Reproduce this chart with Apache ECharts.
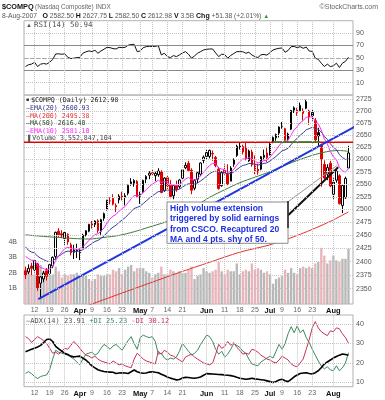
<!DOCTYPE html>
<html>
<head>
<meta charset="utf-8">
<script src="https://cdn.jsdelivr.net/npm/echarts@6.0.0/dist/echarts.min.js"></script>
<style>
html,body{margin:0;padding:0;background:#ffffff;}
#chart{width:385px;height:400px;}
</style>
</head>
<body>
<div id="chart"></div>
<script>
// ---------------- DATA ----------------
const dates = ['3/7','3/8','3/9','3/12','3/13','3/14','3/15','3/16','3/19','3/20','3/21','3/22','3/23','3/26','3/27','3/28','3/29','3/30',
'4/2','4/3','4/4','4/5','4/9','4/10','4/11','4/12','4/13','4/16','4/17','4/18','4/19','4/20','4/23','4/24','4/25','4/26','4/27','4/30',
'5/1','5/2','5/3','5/4','5/7','5/8','5/9','5/10','5/11','5/14','5/15','5/16','5/17','5/18','5/21','5/22','5/23','5/24','5/25','5/29','5/30','5/31',
'6/1','6/4','6/5','6/6','6/7','6/8','6/11','6/12','6/13','6/14','6/15','6/18','6/19','6/20','6/21','6/22','6/25','6/26','6/27','6/28','6/29',
'7/2','7/3','7/5','7/6','7/9','7/10','7/11','7/12','7/13','7/16','7/17','7/18','7/19','7/20','7/23','7/24','7/25','7/26','7/27','7/30','7/31',
'8/1','8/2','8/3','8/6','8/7','8/8'];

const prevClose0 = 2385.1;
const opens = [2383,2381,2392,2385,2396,2360,2368,2383,2378,2392,2410,2458,2453,2444,2452,2432,2422,2420,2417,2426,
2451,2458,2475,2471,2478,2458,2483,2500,2517,2522,2508,2519,2528,2527,2532,2551,2552,2556,2526,2535,
2560,2568,2573,2567,2569,2575,2537,2563,2548,2527,2548,2545,2562,2583,2592,2578,2542,2560,2570,2598,
2606,2606,2612,2604,2580,2547,2578,2570,2556,2590,2608,2625,2615,2625,2597,2615,2592,2580,2580,2604,
2613,2609,2636,2644,2654,2668,2663,2640,2662,2702,2703,2701,2695,2706,2700,2697,2680,2655,2630,2590,
2570,2592,2530,2558,2567,2508,2523,2582.5];
const highs = [2391,2395,2398,2405,2398,2374,2383,2388,2397,2410,2457,2464,2460,2458,2454,2436,2432,2434,2425,2453,
2460,2472,2478,2479,2481,2482,2494,2519,2524,2530,2512,2530,2535,2532,2549,2562,2560,2558,2535,2559,
2568,2576,2580,2575,2582,2578,2564,2567,2558,2548,2557,2560,2580,2594,2597,2582,2560,2575,2594,2608,
2620,2620,2618,2607,2585,2576,2590,2590,2586,2602,2630,2634,2630,2635,2620,2620,2608,2591,2607,2620,
2626,2635,2647,2653,2668,2677,2665,2655,2702,2710,2707,2718,2706,2724,2703,2703,2685,2665,2632,2598,
2590,2597,2562,2583,2570,2548,2565,2627.75];
const lows = [2368,2377,2375,2380,2346,2331,2362,2365,2376,2388,2404,2447,2445,2432,2432,2412,2405,2407,2403,2424,
2448,2456,2463,2466,2455,2451,2478,2498,2510,2508,2495,2512,2518,2508,2528,2547,2545,2524,2511,2533,
2552,2560,2567,2556,2565,2532,2535,2540,2522,2520,2535,2541,2558,2580,2575,2530,2538,2552,2566,2592,
2600,2602,2597,2584,2539,2545,2569,2548,2556,2585,2605,2620,2610,2598,2595,2585,2570,2569,2578,2600,
2595,2608,2633,2638,2645,2663,2637,2634,2660,2696,2690,2700,2680,2704,2671,2680,2637,2626,2545,2560,
2558,2544,2521,2553,2510,2493,2521,2582.5];
const closes = [2374.6,2387.7,2387.6,2402.3,2350.6,2371.7,2378.7,2372.7,2394.4,2408.2,
2455.9,2451.3,2448.9,2455.6,2437.4,2417.1,2417.9,2421.6,2422.3,2450.3,
2458.7,2471.3,2469.4,2477.6,2459.3,2480.3,2491.9,2518.3,2517.0,2510.5,
2505.4,2526.4,2523.7,2524.5,2547.9,2554.5,2557.2,2525.1,2531.5,2557.8,
2565.5,2572.2,2571.0,2571.8,2576.3,2533.7,2562.2,2546.4,2525.3,2547.4,
2539.3,2558.5,2578.8,2588.0,2577.1,2537.9,2557.2,2572.9,2592.6,2604.5,
2613.9,2618.3,2611.2,2587.2,2541.4,2573.5,2572.2,2549.8,2582.5,2599.4,
2626.7,2626.8,2626.3,2600.0,2617.0,2589.0,2577.1,2574.2,2605.4,2608.4,
2603.2,2632.3,2645.0,2651.2,2666.5,2670.3,2639.2,2651.9,2701.7,2707.0,
2697.3,2712.3,2699.9,2720.0,2687.6,2690.6,2639.9,2648.2,2599.3,2562.2,
2583.3,2546.3,2553.9,2576.0,2511.3,2547.3,2561.6,2613.0];
// volume in billions of shares
const volumes = [2.3,2.3,1.9,1.9,2.6,2.5,2.1,2.3,1.8,1.9,2.4,2.1,1.7,1.9,1.8,1.9,1.9,2.0,1.7,1.9,
1.8,1.6,1.5,1.6,1.9,1.8,1.8,1.9,1.9,2.2,2.1,2.3,1.9,2.2,2.4,2.5,2.1,2.3,2.3,2.3,
2.1,2.0,1.7,1.9,2.0,2.4,1.9,1.9,2.2,2.1,2.0,2.1,2.0,2.0,2.2,2.4,1.6,1.8,1.9,2.3,
2.1,2.0,2.1,2.2,2.7,2.1,1.9,2.2,2.1,2.1,2.6,1.9,2.1,2.2,2.1,2.6,2.2,2.3,2.2,2.0,
2.1,1.9,1.3,1.6,1.7,1.8,2.2,2.0,2.3,2.0,1.9,2.3,2.4,2.3,2.4,2.3,2.6,2.7,3.6,3.1,
2.6,2.8,3.1,2.8,2.7,2.9,2.9,3.55];
const ema10 = [2410,2406,2402.7,2402.6,2393.1,2389.2,2387.3,2384.6,2386.4,2390.4,2402.3,2411.2,2418.1,2424.9,2427.2,2425.4,2424.0,2423.6,2423.4,2428.3,
2433.8,2440.6,2445.8,2451.6,2453.0,2458.0,2464.2,2474.0,2481.8,2487.0,2490.3,2496.9,2501.8,2505.9,2513.5,2521.0,2527.6,2527.1,2527.9,2533.3,
2539.2,2545.2,2549.9,2553.9,2558.0,2553.6,2555.2,2553.6,2548.5,2548.3,2546.7,2548.8,2554.3,2560.4,2563.4,2558.8,2558.5,2561.1,2566.8,2573.7,
2581.0,2587.8,2592.1,2591.2,2582.1,2580.5,2579.0,2573.7,2575.3,2579.7,2588.2,2595.2,2600.9,2600.7,2603.7,2601.0,2596.7,2592.6,2594.9,2597.4,
2598.5,2604.6,2611.9,2619.0,2627.6,2635.4,2636.1,2639.0,2650.4,2660.7,2667.4,2675.6,2680.0,2687.3,2687.4,2688.0,2679.3,2673.6,2660.1,2642.3,
2631.6,2616.1,2604.8,2599.6,2583.5,2576.9,2574.1,2581.1];
const ema20 = [2428,2421.4,2418.2,2416.7,2410.4,2406.7,2404.0,2401.0,2400.4,2401.1,2406.3,2410.6,2414.2,2418.2,2420.0,2419.7,2419.5,2419.7,2420.0,2422.9,
2426.3,2430.6,2434.3,2438.4,2440.4,2444.2,2448.7,2455.3,2461.2,2465.9,2469.7,2475.1,2479.7,2484.0,2490.1,2496.2,2502.0,2504.2,2506.8,2511.7,
2516.8,2522.1,2526.8,2531.1,2535.4,2535.2,2537.8,2538.6,2537.3,2538.3,2538.4,2540.3,2544.0,2548.2,2551.0,2549.8,2550.5,2552.6,2556.4,2561.0,
2566.0,2571.0,2574.8,2576.0,2572.7,2572.8,2572.7,2570.5,2571.6,2574.3,2579.3,2583.8,2587.8,2589.0,2591.7,2591.4,2590.0,2588.5,2590.1,2591.8,
2592.9,2596.7,2601.3,2606.0,2611.8,2617.4,2619.5,2622.6,2630.1,2637.4,2643.1,2649.7,2654.5,2660.7,2663.3,2665.9,2663.4,2662.0,2656.0,2647.1,
2641.0,2632.0,2624.6,2620.0,2609.6,2603.7,2599.7,2600.93];
// [day index, value] points
const ma50Pts = [[0,2451],[6,2448],[11,2446],[16,2444],[21,2443],[26,2446],[31,2450],[36,2457],[41,2466],[46,2475],[51,2486],[56,2505],
[61,2524],[66,2539],[71,2553],[76,2564],[81,2575],[86,2588],[91,2600],[96,2610],[101,2617],[104,2618],[107,2616.4]];
const ma200Pts = [[0,2279],[11,2300],[21,2320],[31,2340],[41,2360],[51,2380],[61,2399],[71,2418],[81,2432],[91,2452],[101,2477],[107,2495.4]];
const rsi = [36.1,39,40,43,36.1,39.9,40.9,40,43,47.5,56.4,56.5,55.9,56.5,51,49,49.5,50.5,50.8,57.5,
59.8,61.2,60.3,62.3,57.5,61.2,64,67.1,66.5,65,64.4,67.1,66.5,67.1,70.5,71.5,71.9,60.1,61.2,66.5,
68.1,68.7,68.4,68.6,69.7,54.8,57.5,52.1,50.5,53.7,52.1,54.8,58,60.1,55.9,49.5,53.2,57.5,60.1,62.8,
63.9,64.4,64.4,58,52.1,55.9,55.5,49.5,54,57,60.1,60.1,60,57.5,59.1,54.8,52.1,50.5,55,55.5,
54.5,58.5,62.8,64.4,65.5,66,59.1,62,68.1,68.5,66.5,68.1,65.5,67.5,61,60.5,49.5,47.5,41.5,36.1,
39.9,36.1,37.2,41.5,34.5,41.5,44.5,50.94];
const adx = [25.8,26.4,27,27.5,28.2,29,30.5,32,32.3,31,28.5,27.2,26,25,24.3,23.5,23.1,23.3,23.5,22.5,
21.5,20,18.5,17.5,16.5,16,15.6,15.4,15.3,15.2,14.6,14.8,15,14.8,14.6,15.5,16.4,15.5,15,14.7,
14.8,15.3,15.5,15.2,15,14.2,13.5,12.8,12.2,11.8,11.3,11.5,12.3,12.6,12.5,12.3,12.1,12.4,12.8,13.7,
14.5,14.4,14.3,14.2,14.1,14,13.8,13.7,13.5,13.2,12.6,12.1,11.9,11.6,11.8,12.1,11.8,11.6,11.4,11.2,
10.8,10.4,10,10.5,11.2,11.6,10.9,10.4,11.6,12.9,13.8,14.6,14.8,15,14.6,14.3,15,16,17.6,19.4,
20.5,21.5,22.5,23.3,24,24.6,24.3,23.91];
const plusDI = [14.6,15.5,14.5,13,12,13,13.5,13.8,16.5,22,26.5,25.5,25,24.5,24,23,22,20.5,19,22,
24.5,25,25.5,24,25,27.5,29.5,28.5,27,28.7,29.5,28,26.5,29,31.5,33.5,30,27,33,34.3,
33.5,33,33.5,31,24.5,25,22.5,21.5,22.5,22,23,26,30,28,26,24,25,26.5,29.5,31.8,
34.3,33.5,31,27,24.5,26,23,24.5,27,30,29,28,26,25,22,19.5,19,18.5,20.5,21.5,
22.5,23.5,22.5,26,29.5,27,30,35,38.6,35.5,39,35.5,37,33,30.5,27,24,21,18.5,17,
18,16.5,16,18.5,16,17.5,20,25.23];
const minusDI = [33.5,32.5,30.5,32,33.5,32.5,31.5,30,27.5,25,25.5,24.5,26,27.5,27,29,31,29.5,27.5,25.5,
24,23.5,22.5,23.5,22,21,20.5,20,19.5,21,20,19,19.5,18.5,18,17.5,22,25,23.5,22,
21,20.5,20,19.5,26,24.5,26.5,25.5,24,23.5,22.5,21.5,20.5,23,23.8,24.5,23,22,21,20,
19.5,19,20,24.5,29.5,27.5,28.5,31,29,30.5,28,26.5,24.5,25,24.5,27,26.5,25.5,24,23,
22,21.5,20.5,20,21.5,23.5,22.5,21.5,19.5,18.5,18,20,22,27,32,38,41.2,38,36,35,
34,36.5,36,38,37.5,35,33,30.12];

// tick labels
const tickIdx  = [3,8,13,18,22,27,32,38,42,47,52,60,66,71,76,81,85,90,95,102];
const tickText = ['12','19','26','Apr','9','16','23','May','7','14','21','Jun','11','18','25','Jul','9','16','23','Aug'];
const priceTicks = [2350,2375,2400,2425,2450,2475,2500,2525,2550,2575,2600,2625,2650,2675,2700,2725];
const volTicks = [1,2,3,4];
const adxTicks = [10,20,30,40];

// hand-drawn annotation lines, [day index, price]
const blueTrend = [[4.24,2331],[114.8,2687]];
const resistance = [[-0.5,2635],[108.5,2635]];
const greenSeg = [[82.1,2635.5],[97.6,2635.5]];
const calloutDark = [[87.0,2489],[103.6,2584]];
const calloutEdge = [[86.7,2514],[103.3,2588]];

// ---------------- CHART ----------------
const SANS = '"Liberation Sans", Arial, sans-serif';
const MONO = '"DejaVu Sans Mono", "Liberation Mono", monospace';
const cats = dates.concat(['']);

const candleData = closes.map((c, i) => {
  const prev = i > 0 ? closes[i - 1] : prevClose0;
  const stroke = c >= prev ? '#000000' : '#e00000';
  const fill = c > opens[i] ? '#ffffff' : stroke;
  return { value: [opens[i], c, lows[i], highs[i]],
    itemStyle: { color: fill, color0: fill, borderColor: stroke, borderColor0: stroke, borderColorDoji: stroke, borderWidth: 1 } };
});
const volData = volumes.map((v, i) => {
  const prev = i > 0 ? closes[i - 1] : prevClose0;
  return { value: v, itemStyle: { color: closes[i] >= prev ? '#b8b8b8' : '#e9b5ba' } };
});

function xFmt(value, index) {
  const k = tickIdx.indexOf(index);
  if (k < 0) return '';
  const t = tickText[k];
  return /^[A-Z]/.test(t) ? '{m|' + t + '}' : '{d|' + t + '}';
}
const xLabel = {
  show: true,
  interval: (index) => tickIdx.indexOf(index) >= 0,
  formatter: xFmt,
  margin: 3,
  rich: {
    m: { fontFamily: SANS, fontSize: 7.5, fontWeight: 'bold', color: '#111' },
    d: { fontFamily: SANS, fontSize: 7, color: '#666' }
  }
};
const vGrid = tickIdx.map(i => ({ xAxis: i, label: { show: false } }));
const dotted = { type: 'dotted', color: '#c4c4c4', width: 1 };
const tickLabel = { show: true, position: 'end', distance: 3, color: '#555', fontSize: 7, fontFamily: SANS,
  formatter: p => String(Math.round(p.value)) };

const gridBase = { left: 24, right: 32, show: true, borderColor: '#b0b0b0', borderWidth: 1, backgroundColor: 'transparent' };

const option = {
  animation: false,
  backgroundColor: '#ffffff',
  textStyle: { fontFamily: SANS },
  grid: [
    Object.assign({ top: 20.7, height: 74.4 }, gridBase),
    Object.assign({ top: 95, height: 209 }, gridBase),
    Object.assign({ top: 315, height: 71.7 }, gridBase)
  ],
  xAxis: [
    { type: 'category', gridIndex: 0, data: cats, boundaryGap: true, axisLabel: { show: false }, axisTick: { show: false }, axisLine: { show: false }, splitLine: { show: false } },
    { type: 'category', gridIndex: 1, data: cats, boundaryGap: true, axisLabel: xLabel, axisTick: { show: false }, axisLine: { show: false }, splitLine: { show: false } },
    { type: 'value', gridIndex: 1, min: -0.5, max: 108.5, show: false },
    { type: 'category', gridIndex: 2, data: cats, boundaryGap: true, axisLabel: xLabel, axisTick: { show: false }, axisLine: { show: false }, splitLine: { show: false } }
  ],
  yAxis: [
    { type: 'value', gridIndex: 0, position: 'right', min: -10, max: 110, interval: 20,
      axisLabel: { margin: 3, color: '#555', fontSize: 7, formatter: v => (v < 0 || v > 100) ? '' : String(v) },
      axisLine: { show: false }, axisTick: { show: false }, splitLine: { show: true, lineStyle: dotted } },
    { type: 'log', gridIndex: 1, min: 2322.0, max: 2734.2, show: false, splitLine: { show: false } },
    { type: 'value', gridIndex: 1, position: 'left', min: 0, max: 13.4, interval: 1,
      axisLabel: { margin: 7, color: '#555', fontSize: 7, formatter: v => volTicks.indexOf(v) >= 0 ? v + 'B' : '' },
      axisLine: { show: false }, axisTick: { show: false }, splitLine: { show: false } },
    { type: 'value', gridIndex: 2, min: 7.8, max: 44.6, show: false, splitLine: { show: false } }
  ],
  series: [
    // RSI panel
    { type: 'line', xAxisIndex: 0, yAxisIndex: 0, data: rsi, symbol: 'none', z: 3,
      lineStyle: { color: '#111', width: 1 },
      markLine: { silent: true, symbol: 'none', animation: false,
        data: [
          { yAxis: 70, lineStyle: { type: 'solid', color: '#8a8a8a', width: 1 }, label: { show: false } },
          { yAxis: 30, lineStyle: { type: 'solid', color: '#8a8a8a', width: 1 }, label: { show: false } },
          { yAxis: 50, lineStyle: { type: 'dashed', color: '#a8a8a8', width: 1 }, label: { show: false } }
        ].concat(vGrid.map(g => Object.assign({ lineStyle: dotted }, g))) } },
    // main panel gridlines + price labels
    { type: 'line', xAxisIndex: 1, yAxisIndex: 1, data: [[0, 2500]], symbol: 'none', z: 0, silent: true,
      lineStyle: { opacity: 0 },
      markLine: { silent: true, symbol: 'none', animation: false, lineStyle: dotted,
        data: priceTicks.map(p => ({ yAxis: p, label: tickLabel })).concat(vGrid) } },
    // volume
    { type: 'bar', xAxisIndex: 1, yAxisIndex: 2, data: volData, barWidth: '78%', z: 1, silent: true },
    // candles
    { type: 'candlestick', xAxisIndex: 1, yAxisIndex: 1, data: candleData, barWidth: 2, z: 2 },
    // moving averages
    { type: 'line', xAxisIndex: 1, yAxisIndex: 1, data: ma200Pts, symbol: 'none', smooth: 0.3, z: 3, lineStyle: { color: '#e8302e', width: 1 } },
    { type: 'line', xAxisIndex: 1, yAxisIndex: 1, data: ma50Pts, symbol: 'none', smooth: 0.3, z: 3, lineStyle: { color: '#3b7a3b', width: 1 } },
    { type: 'line', xAxisIndex: 1, yAxisIndex: 1, data: ema20, symbol: 'none', z: 3, lineStyle: { color: '#3c3c96', width: 1 } },
    { type: 'line', xAxisIndex: 1, yAxisIndex: 1, data: ema10, symbol: 'none', z: 3, lineStyle: { color: '#ff22ff', width: 1 } },
    // annotations
    { type: 'line', xAxisIndex: 2, yAxisIndex: 1, data: resistance, symbol: 'none', z: 4, lineStyle: { color: '#e80000', width: 1.5 } },
    { type: 'line', xAxisIndex: 2, yAxisIndex: 1, data: greenSeg, symbol: 'none', z: 4, lineStyle: { color: '#2e8a2e', width: 1.5 } },
    { type: 'line', xAxisIndex: 2, yAxisIndex: 1, data: blueTrend, symbol: 'none', z: 4, clip: false, lineStyle: { color: '#1f35e0', width: 2 } },
    { type: 'line', xAxisIndex: 2, yAxisIndex: 1, data: calloutEdge, symbol: 'none', z: 4, lineStyle: { color: '#9a9a9a', width: 1 } },
    { type: 'line', xAxisIndex: 2, yAxisIndex: 1, data: calloutDark, symbol: 'none', z: 4, lineStyle: { color: '#111', width: 2 } },
    // ADX panel
    { type: 'line', xAxisIndex: 3, yAxisIndex: 3, data: [[0, 20]], symbol: 'none', z: 0, silent: true, lineStyle: { opacity: 0 },
      markLine: { silent: true, symbol: 'none', animation: false, lineStyle: dotted,
        data: adxTicks.map(v => ({ yAxis: v, label: tickLabel })).concat(vGrid) } },
    { type: 'line', xAxisIndex: 3, yAxisIndex: 3, data: plusDI, symbol: 'none', z: 3, lineStyle: { color: '#3b8a5c', width: 1 } },
    { type: 'line', xAxisIndex: 3, yAxisIndex: 3, data: minusDI, symbol: 'none', z: 3, lineStyle: { color: '#c8325a', width: 1 } },
    { type: 'line', xAxisIndex: 3, yAxisIndex: 3, data: adx, symbol: 'none', z: 4, lineStyle: { color: '#000', width: 1.6 } }
  ],
  graphic: [
    // header
    { type: 'text', x: 2, y: 7, z: 200, style: { text: '$COMPQ', fontFamily: SANS, fontSize: 7.3, fontWeight: 'bold', fill: '#111', verticalAlign: 'middle' } },
    { type: 'text', x: 35, y: 7, z: 200, style: { text: '(Nasdaq Composite) INDX', fontFamily: SANS, fontSize: 6.4, fill: '#666', verticalAlign: 'middle' } },
    { type: 'text', x: 378, y: 7, z: 200, style: { text: '\u00A9StockCharts.com', fontFamily: SANS, fontSize: 7, fill: '#666', align: 'right', verticalAlign: 'middle' } },
    { type: 'text', x: 2, y: 16, z: 200, style: { fontFamily: SANS, fontSize: 6.7, verticalAlign: 'middle',
      text: '{g|8-Aug-2007}   {b|O} {g|2582.50} {b|H} {g|2627.75} {b|L} {g|2582.50} {b|C} {g|2612.98} {b|V} {g|3.5B} {b|Chg} {g|+51.38 (+2.01%)} {u|\u25B2}',
      rich: { g: { fill: '#555', fontSize: 6.7, fontFamily: SANS }, b: { fill: '#111', fontSize: 7, fontWeight: 'bold', fontFamily: SANS }, u: { fill: '#2a9a2a', fontSize: 6, fontFamily: SANS } } } },
    // RSI legend
    { type: 'text', x: 26, y: 25, z: 200, style: { fontFamily: MONO, fontSize: 7.5, verticalAlign: 'middle',
      text: '{i|\u25B2}{t|RSI(14) 50.94}', rich: { i: { fill: '#3a6a3a', fontSize: 6, padding: [0, 2, 0, 0] }, t: { fill: '#555', fontFamily: MONO, fontSize: 7.5 } } } },
    // main legend
    { type: 'text', x: 26, y: 100, z: 200, style: { fontFamily: MONO, fontSize: 6.6, verticalAlign: 'middle',
      text: '{i|\u25A0}{t|$COMPQ (Daily) 2612.98}', rich: { i: { fill: '#333', fontSize: 5, padding: [0, 2, 0, 0] }, t: { fill: '#222', fontFamily: MONO, fontSize: 6.6 } } } },
    { type: 'text', x: 26, y: 108, z: 200, style: { text: '\u2014EMA(20) 2600.93', fontFamily: MONO, fontSize: 6.6, fill: '#33338c', verticalAlign: 'middle' } },
    { type: 'text', x: 26, y: 115.8, z: 200, style: { text: '\u2014MA(200) 2495.38', fontFamily: MONO, fontSize: 6.6, fill: '#e83030', verticalAlign: 'middle' } },
    { type: 'text', x: 26, y: 123.5, z: 200, style: { text: '\u2014MA(50) 2616.40', fontFamily: MONO, fontSize: 6.6, fill: '#1f3f1f', verticalAlign: 'middle' } },
    { type: 'text', x: 26, y: 131.3, z: 200, style: { text: '\u2014EMA(10) 2581.10', fontFamily: MONO, fontSize: 6.6, fill: '#ff22ff', verticalAlign: 'middle' } },
    { type: 'text', x: 26, y: 138.6, z: 200, style: { fontFamily: MONO, fontSize: 6.6, verticalAlign: 'middle',
      text: '{i|\u2590}{t|Volume 3,552,847,104}', rich: { i: { fill: '#555', fontSize: 6, padding: [0, 2, 0, 0] }, t: { fill: '#444', fontFamily: MONO, fontSize: 6.6 } } } },
    // ADX legend
    { type: 'text', x: 26, y: 321, z: 200, style: { fontFamily: MONO, fontSize: 7, verticalAlign: 'middle',
      text: '{k|\u2014ADX(14) 23.91} {p|+DI 25.23} {m|-DI 30.12}',
      rich: { k: { fill: '#555', fontFamily: MONO, fontSize: 7 }, p: { fill: '#3b8a5c', fontFamily: MONO, fontSize: 7 }, m: { fill: '#c8325a', fontFamily: MONO, fontSize: 7 } } } },
    // callout box
    { type: 'rect', z: 150, shape: { x: 167, y: 202, width: 121, height: 41.3 }, style: { fill: '#ffffff', stroke: '#8c8c8c', lineWidth: 1 } },
    { type: 'line', z: 151, shape: { x1: 288, y1: 201, x2: 288, y2: 228 }, style: { stroke: '#222', lineWidth: 1.5 } },
    { type: 'text', x: 170, y: 203.2, z: 152, style: { text: 'High volume extension\ntriggered by solid earnings\nfrom CSCO. Recaptured 20\nMA and 4 pts. shy of 50.',
      fontFamily: SANS, fontSize: 8.5, fontWeight: 'bold', fill: '#1f2fe6', lineHeight: 10.5, verticalAlign: 'top' } }
  ]
};

const chart = echarts.init(document.getElementById('chart'), null, { renderer: 'canvas' });
chart.setOption(option);
</script>
</body>
</html>
